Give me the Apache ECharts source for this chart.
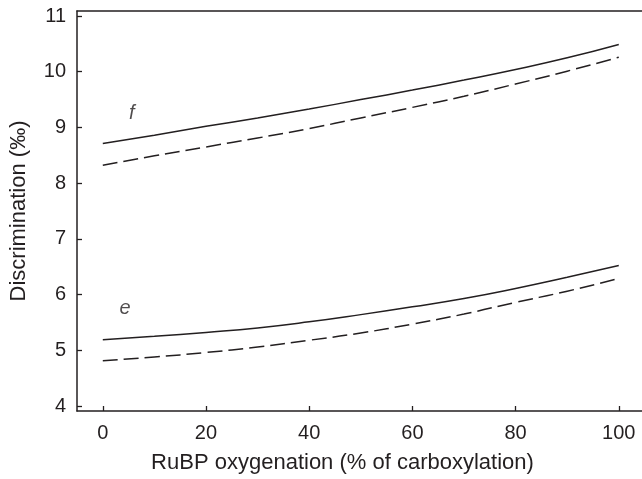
<!DOCTYPE html>
<html>
<head>
<meta charset="utf-8">
<script src="https://cdn.jsdelivr.net/npm/echarts@6/dist/echarts.min.js"></script>
<style>
  html, body { margin: 0; padding: 0; background: #fff; }
  #chart { width: 642px; height: 479px; }
</style>
</head>
<body>
<div id="chart"></div>
<script>
// RuBP oxygenation (% of carboxylation)
const oxygenation = [0, 10, 20, 30, 40, 50, 60, 70, 80, 90, 100];
// curve f
const fSolid = [8.71, 8.86, 9.02, 9.17, 9.33, 9.50, 9.67, 9.85, 10.04, 10.25, 10.49];
const fDashed = [8.32, 8.49, 8.65, 8.81, 8.98, 9.17, 9.36, 9.56, 9.78, 10.01, 10.26];
// curve e
const eSolid = [5.19, 5.25, 5.32, 5.40, 5.51, 5.64, 5.78, 5.93, 6.11, 6.31, 6.52];
const eDashed = [4.81, 4.88, 4.96, 5.06, 5.18, 5.31, 5.47, 5.65, 5.86, 6.06, 6.29];
// tick labels
const xTicks = [0, 20, 40, 60, 80, 100];
const yTicks = [4, 5, 6, 7, 8, 9, 10, 11];
// curve names, placed in data coordinates
const curveNames = ["f", "e"];
const curveNameX = [5.6, 4.3];
const curveNameY = [9.26, 5.75];

const ink = "#231f20";
const font = "'Liberation Sans', Arial, sans-serif";

const pairs = (ys) => oxygenation.map((x, i) => [x, ys[i]]);

const lineSeries = (ys, dashed) => ({
  type: "line",
  data: pairs(ys),
  smooth: 0.5,
  symbol: "none",
  silent: true,
  lineStyle: {
    color: ink,
    width: 1.5,
    type: dashed ? [15, 6] : "solid"
  }
});

const chart = echarts.init(document.getElementById("chart"));
chart.setOption({
  animation: false,
  backgroundColor: "#fff",
  grid: { left: 75, top: 11, right: 0, bottom: 68, containLabel: false },
  xAxis: [
    {
      type: "value",
      min: -5,
      max: 104.5,
      name: "RuBP oxygenation (% of carboxylation)",
      nameLocation: "middle",
      nameGap: 41,
      nameTextStyle: { color: ink, fontSize: 22, fontFamily: font, padding: [0, 34, 0, 0] },
      axisLine: { show: true, onZero: false, lineStyle: { color: ink, width: 1.5 } },
      axisTick: { show: true, inside: true, length: 5, customValues: xTicks, lineStyle: { color: ink, width: 1.3 } },
      axisLabel: { customValues: xTicks, color: ink, fontSize: 20, fontFamily: font, margin: 12 },
      splitLine: { show: false }
    },
    {
      // top frame line only
      type: "value",
      position: "top",
      min: -5,
      max: 104.5,
      axisLine: { show: true, onZero: false, lineStyle: { color: ink, width: 1.5 } },
      axisTick: { show: false },
      axisLabel: { show: false },
      splitLine: { show: false }
    }
  ],
  yAxis: {
    type: "value",
    min: 3.91,
    max: 11.09,
    name: "Discrimination (‰)",
    nameLocation: "middle",
    nameGap: 47,
    nameTextStyle: { color: ink, fontSize: 22, fontFamily: font },
    axisLine: { show: true, onZero: false, lineStyle: { color: ink, width: 1.5 } },
    axisTick: { show: true, inside: true, length: 5, customValues: yTicks, lineStyle: { color: ink, width: 1.3 } },
    axisLabel: { customValues: yTicks, color: ink, fontSize: 20, fontFamily: font, margin: 11 },
    splitLine: { show: false }
  },
  series: [
    lineSeries(fSolid, false),
    lineSeries(fDashed, true),
    lineSeries(eSolid, false),
    lineSeries(eDashed, true),
    {
      type: "scatter",
      symbolSize: 0,
      silent: true,
      data: curveNames.map((n, i) => [curveNameX[i], curveNameY[i], n]),
      label: {
        show: true,
        position: "inside",
        formatter: (p) => p.value[2],
        color: ink,
        fontSize: 20,
        fontStyle: "italic",
        fontFamily: font
      }
    }
  ]
});
</script>
</body>
</html>
